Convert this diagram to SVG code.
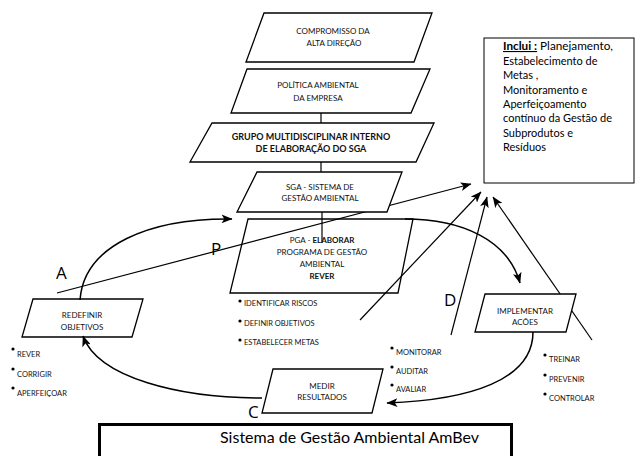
<svg xmlns="http://www.w3.org/2000/svg" width="635" height="456" viewBox="0 0 635 456">
<defs>
<marker id="ah" viewBox="0 0 10 8" markerWidth="11" markerHeight="9" refX="9.5" refY="4" orient="auto" markerUnits="userSpaceOnUse">
<path d="M0,0 L10,4 L0,8 L2.5,4 z" fill="#000"/>
</marker>
<style>
.box{fill:#fff;stroke:#000;stroke-width:1.3}
.lbl{font-family:Lato,"Liberation Sans",sans-serif;font-size:8px;fill:#111;text-anchor:middle}
.b{font-weight:bold}
.bl{font-family:Lato,"Liberation Sans",sans-serif;font-size:7.5px;fill:#111}
.big{font-family:"Open Sans","Liberation Sans",sans-serif;font-size:17px;fill:#000}
.ln{fill:none;stroke:#000;stroke-width:1.2}
.cv{fill:none;stroke:#000;stroke-width:1.5}
.inc{font-family:Lato,"Liberation Sans",sans-serif;font-size:11px;fill:#000}
</style>
</defs>
<rect width="635" height="456" fill="#fff"/>

<g id="connectors">
<line class="ln" x1="321" y1="113" x2="321" y2="123"/>
<line class="ln" x1="321" y1="162" x2="321" y2="172"/>
<line class="ln" x1="322" y1="212" x2="322" y2="243"/>
<path class="ln" d="M57,293 L471,184" marker-end="url(#ah)"/>
<path class="ln" d="M360,320 L481,192" marker-end="url(#ah)"/>
<path class="ln" d="M451,335 L487,197" marker-end="url(#ah)"/>
<path class="ln" d="M592,340 L493,197" marker-end="url(#ah)"/>
<path class="cv" d="M80,300 C84,245 150,218 232,219" marker-end="url(#ah)"/>
<path class="cv" d="M405,219 C462,219 508,240 520,283" marker-end="url(#ah)"/>
<path class="cv" d="M533,332 C533,380 470,400 387,403" marker-end="url(#ah)"/>
<path class="cv" d="M262,398 C180,398 98,378 83,336" marker-end="url(#ah)"/>
</g>

<g id="n1">
<polygon class="box" points="264,13 432,13 414,62 246,62"/>
<text class="lbl" x="333" y="34">COMPROMISSO DA</text>
<text class="lbl" x="334" y="46">ALTA DIREÇÃO</text>
</g>
<g id="n2">
<polygon class="box" points="247,69 430,69 411,113 231,113"/>
<text class="lbl" x="318" y="88">POLÍTICA AMBIENTAL</text>
<text class="lbl" x="318" y="101">DA EMPRESA</text>
</g>
<g id="n3">
<polygon class="box" points="212,123 434,123 416,162 190,162"/>
<text class="lbl b" x="311" y="140" style="font-size:9px">GRUPO MULTIDISCIPLINAR INTERNO</text>
<text class="lbl b" x="311" y="152" style="font-size:9px">DE ELABORAÇÃO DO SGA</text>
</g>
<g id="n4">
<polygon class="box" points="257,172 402,172 387,212 237,212"/>
<text class="lbl" x="320" y="190">SGA - SISTEMA DE</text>
<text class="lbl" x="320" y="201">GESTÃO AMBIENTAL</text>
</g>
<g id="n5">
<polygon class="box" points="248,219 413,219 398,293 230,293" style="fill:none"/>
<text class="lbl" x="322" y="243">PGA - <tspan class="b">ELABORAR</tspan></text>
<text class="lbl" x="322" y="255">PROGRAMA DE GESTÃO</text>
<text class="lbl" x="322" y="267">AMBIENTAL</text>
<text class="lbl b" x="322" y="279">REVER</text>
</g>
<g id="n6">
<polygon class="box" points="33,299 143,299 132,337 22,337" style="fill:none"/>
<text class="lbl" x="82" y="318">REDEFINIR</text>
<text class="lbl" x="82" y="330">OBJETIVOS</text>
</g>
<g id="n7">
<polygon class="box" points="485,294 576,294 566,332 475,332"/>
<text class="lbl" x="525" y="314">IMPLEMENTAR</text>
<text class="lbl" x="525" y="325">ACÕES</text>
</g>
<g id="n8">
<polygon class="box" points="273,369 383,369 372,413 262,413"/>
<text class="lbl" x="322" y="389">MEDIR</text>
<text class="lbl" x="322" y="400">RESULTADOS</text>
</g>

<g id="inclui">
<rect x="484" y="38" width="150" height="145" fill="#fff" stroke="#000" stroke-width="1"/>
<text class="inc" x="503" y="50" textLength="110" lengthAdjust="spacingAndGlyphs"><tspan font-weight="bold" text-decoration="underline">Inclui :</tspan> Planejamento,</text>
<text class="inc" x="503" y="65">Estabelecimento de</text>
<text class="inc" x="503" y="79">Metas ,</text>
<text class="inc" x="503" y="94">Monitoramento e</text>
<text class="inc" x="503" y="108">Aperfeiçoamento</text>
<text class="inc" x="503" y="122">contínuo da Gestão de</text>
<text class="inc" x="503" y="137">Subprodutos e</text>
<text class="inc" x="503" y="151">Resíduos</text>
</g>

<g id="bullets" fill="#000">
<circle cx="240" cy="301" r="1.6"/><text class="bl" x="244" y="306">IDENTIFICAR RISCOS</text>
<circle cx="240" cy="321" r="1.6"/><text class="bl" x="244" y="326">DEFINIR OBJETIVOS</text>
<circle cx="240" cy="340" r="1.6"/><text class="bl" x="244" y="345">ESTABELECER  METAS</text>
<circle cx="13" cy="349" r="1.6"/><text class="bl" x="17" y="357">REVER</text>
<circle cx="13" cy="369" r="1.6"/><text class="bl" x="17" y="377">CORRIGIR</text>
<circle cx="13" cy="388" r="1.6"/><text class="bl" x="17" y="396">APERFEIÇOAR</text>
<circle cx="392" cy="348" r="1.6"/><text class="bl" x="396" y="355">MONITORAR</text>
<circle cx="392" cy="367" r="1.6"/><text class="bl" x="396" y="374">AUDITAR</text>
<circle cx="392" cy="385" r="1.6"/><text class="bl" x="396" y="392">AVALIAR</text>
<circle cx="545" cy="355" r="1.6"/><text class="bl" x="549" y="362">TREINAR</text>
<circle cx="545" cy="375" r="1.6"/><text class="bl" x="549" y="382">PREVENIR</text>
<circle cx="545" cy="394" r="1.6"/><text class="bl" x="549" y="401">CONTROLAR</text>
</g>

<g id="letters">
<text class="big" x="56" y="279">A</text>
<text class="big" x="211" y="255">P</text>
<text class="big" x="444" y="306">D</text>
<text class="big" x="248" y="418">C</text>
</g>

<g id="title">
<rect x="99.5" y="424.5" width="412" height="40" fill="#fff" stroke="#000" stroke-width="3"/>
<text x="220" y="443" style="font-family:Lato,'Liberation Sans',sans-serif;font-size:16px;fill:#000">Sistema de Gestão Ambiental AmBev</text>
</g>
</svg>
